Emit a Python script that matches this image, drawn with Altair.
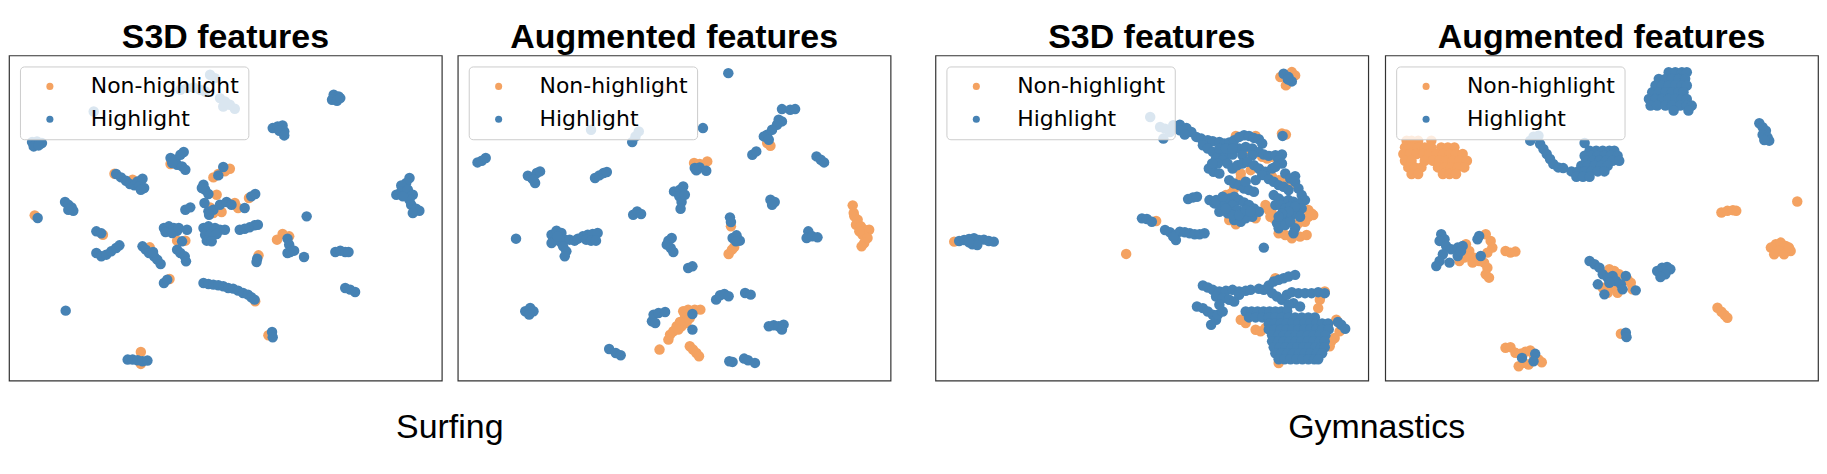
import altair as alt
import pandas as pd

# ---- Panel 1: Surfing, S3D features (t-SNE coords) ----
p1_non = [(325,377),(380,395),(495,348),(625,388),(640,378),(660,370),(675,362),(635,440),(733,450),
          (83,502),(615,478),(625,495),(640,482),(650,492),(690,465),(700,480),(290,560),(515,578),
          (540,578),(762,622),(818,575),(835,558),(855,565),(432,598),(492,693),(752,760),(792,862),
          (405,912),(405,948)]
p1_high = [(615,80),(630,90),(525,125),(545,120),(565,118),(585,125),(600,130),(645,150),(660,160),
           (675,170),(690,182),(655,175),(262,190),
           (75,282),(90,280),(105,285),(80,295),(95,292),
           (990,140),(1005,145),(985,155),(1000,158),(1010,150),
           (805,240),(820,235),(835,232),(840,250),(825,248),(840,262),
           (495,330),(510,335),(525,320),(535,312),(515,350),(530,355),(540,365),(500,345),
           (330,378),(345,388),(360,398),(372,408),(385,412),(395,400),(410,392),(400,415),(415,420),(405,425),
           (655,357),(640,382),
           (595,410),(600,425),(610,438),(590,420),
           (740,445),(752,438),
           (175,462),(185,470),(195,478),(200,488),(185,485),
           (92,510),(540,485),(555,478),(598,465),
           (610,490),(625,485),(645,470),(665,462),(680,470),(720,480),(612,500),
           (908,505),(270,550),(285,556),
           (475,540),(490,535),(505,540),(515,548),(480,552),(500,555),(520,540),(545,545),
           (595,540),(610,535),(630,540),(645,545),(660,545),(600,560),(615,560),(635,558),(605,578),(620,580),
           (705,545),(720,542),(735,538),(750,532),(760,530),
           (850,572),(855,590),(860,608),(850,615),
           (270,615),(285,625),(300,620),(315,610),(330,600),(340,592),
           (410,595),(420,605),(430,615),(445,625),(455,635),(465,648),(442,612),
           (530,580),(515,605),(525,615),(538,625),(542,640),
           (758,632),(756,642),(858,612),(870,608),(900,627),
           (995,612),(1010,608),(1025,612),(1035,612),
           (1220,390),(1210,405),(1195,412),(1180,440),(1195,430),(1215,425),(1230,440),(1220,455),
           (1225,470),(1240,482),(1250,488),(1230,495),(1200,445),
           (475,705),(485,695),
           (595,705),(610,708),(625,710),(640,712),(655,715),(670,720),(685,722),(700,728),(715,735),
           (730,740),(740,748),(750,755),
           (1025,720),(1040,725),(1055,732),
           (177,788),(803,852),(805,868),
           (365,935),(380,935),(395,937),(410,940),(425,938)]

# ---- Panel 2: Surfing, augmented features ----
p2_non = [(640,120),(965,293),(955,285),(733,345),(773,340),(750,348),
          (1215,472),(1218,495),(1220,505),(1230,515),(1225,530),(1240,535),(1250,545),(1265,545),
          (1245,560),(1260,570),(1250,585),(1242,595),(1235,550),
          (845,535),(838,618),(848,605),(855,597),
          (700,790),(715,785),(735,785),(752,785),(705,800),(720,810),(710,825),(695,835),(680,835),
          (670,850),(660,860),(655,875),(628,905),(720,895),(730,905),(740,915),(748,925),(690,822),(685,845)]
p2_high = [(837,75),(420,245),(565,250),(555,265),(545,282),(760,240),
           (1000,183),(1025,185),(1040,183),(990,215),(1000,220),(985,230),(970,245),(955,260),(945,265),(960,275),
           (910,320),(922,310),(1105,325),(1118,335),(1128,343),
           (75,343),(88,338),(100,330),
           (228,383),(240,390),(255,375),(265,370),(250,405),(245,395),
           (432,390),(445,382),(458,375),(468,372),
           (735,360),(750,358),(770,368),(740,367),
           (672,430),(690,425),(700,415),(688,445),(695,462),(692,482),(705,440),
           (965,455),(978,462),(970,470),
           (548,500),(560,490),(572,498),
           (842,508),(845,522),
           (850,570),(862,562),(872,578),(860,580),
           (1080,550),(1075,570),(1092,565),(1108,568),
           (192,572),
           (300,560),(315,548),(330,555),(310,575),(325,580),(340,575),(355,575),(370,578),(380,572),
           (395,565),(410,560),(425,558),(440,555),(405,575),(420,578),(435,578),(335,595),(345,610),
           (340,625),(300,585),(318,565),
           (655,578),(665,570),(650,590),(662,600),(670,612),
           (715,660),(728,655),
           (800,755),(812,742),(825,738),(838,745),
           (888,735),(905,740),
           (220,790),(235,780),(245,790),(232,800),
           (605,820),(610,800),(625,795),(645,792),(615,825),
           (728,798),(728,845),
           (475,903),(495,915),(510,922),
           (960,835),(975,832),(990,835),(1005,830),(1000,845),
           (840,940),(850,942),(885,932),(897,937),(918,945)]

# ---- Panel 3: Gymnastics, S3D features ----
p3_non = [(1065,85),(1082,110),(1100,70),(1110,80),(1070,255),(1082,258),
          (930,262),(990,262),(965,315),(1010,325),(1025,330),(1040,325),
          (945,375),(975,365),(1005,365),(1040,385),(1060,395),(1080,400),(1095,410),(945,390),(925,420),
          (900,440),(915,435),(890,480),(910,515),(930,528),(990,510),
          (1020,470),(1030,485),(1040,495),(1045,510),(1060,555),(1080,560),(1100,570),(1125,565),
          (1145,560),(1150,505),(1165,500),(1140,520),(1120,525),(1035,505),(1150,485),(1160,495),
          (688,518),(597,617),(75,580),
          (1050,690),(1200,730),(1185,755),
          (945,815),(960,825),(990,845),(1005,850),(1020,840),(1210,830),(1235,815),(1245,850),
          (1230,870),(1220,880),(1215,895),(1060,945),(1180,780)]
p3_high = [(1075,75),(1090,85),(1100,98),(1088,92),(1072,262),
           (670,205),(700,235),(715,240),(730,250),(710,270),
           (740,230),(760,228),(780,238),(795,250),(810,265),(825,270),(845,275),(860,278),(880,280),
           (895,285),(910,282),(925,275),(940,265),(955,260),(970,262),(985,268),(1000,272),(1010,285),
           (760,245),(775,258),(730,245),
           (830,290),(845,300),(860,310),(880,315),(900,320),(920,318),(940,300),(960,295),(980,300),
           (1000,310),(1015,318),(1030,322),(1050,320),(1070,318),
           (880,300),(900,300),(920,300),(950,320),(980,320),(870,330),(890,335),(1060,335),(1070,345),
           (848,360),(862,370),(875,345),(880,375),(858,345),
           (905,345),(920,360),(935,350),(950,345),(965,340),(985,350),(1000,360),(1020,370),(1040,360),
           (1050,355),(1010,380),(1030,392),(1045,400),(1060,410),(1075,415),(1090,425),(1110,383),
           (1080,375),(1095,390),(1110,400),(1120,420),(1130,440),(1140,455),
           (910,395),(925,405),(940,410),(955,420),(970,425),(985,430),(960,400),(990,395),
           (850,455),(865,465),(880,470),(895,460),(910,450),(925,445),(940,455),(955,462),(970,470),
           (985,480),(1000,490),(920,470),(935,485),(950,495),(965,500),(980,505),(925,515),(945,520),
           (960,510),(905,495),(920,500),
           (870,455),(890,445),(880,490),(900,480),(940,500),(960,485),(975,490),
           (1045,440),(1060,450),(1075,460),(1090,455),(1105,460),(1120,465),(1130,480),(1115,490),
           (1100,500),(1085,510),(1070,520),(1055,525),(1060,540),(1080,530),(1095,520),(1110,540),
           (1105,555),(1050,470),(1125,505),
           (1065,470),(1080,480),(1095,475),(1110,475),(1090,490),(1070,495),(1060,505),
           (785,452),(800,447),(812,445),
           (645,510),(660,512),(675,520),
           (715,545),(730,552),(745,560),(760,550),(775,552),(790,555),(805,558),(820,558),(835,555),
           (748,575),(740,565),
           (1015,598),
           (90,578),(105,575),(120,572),(135,570),(150,575),(165,574),(180,578),(195,580),(130,588),
           (145,590),(120,582),
           (830,712),(845,718),(860,725),(880,730),(900,728),(920,725),(940,730),(960,728),(975,725),
           (870,745),(890,750),(910,755),(925,760),(940,740),
           (812,775),(830,780),(845,790),(860,800),(870,815),(855,830),(875,800),(890,790),(880,770),
           (1000,722),(1015,725),(1030,712),(1045,700),(1060,695),(1075,690),(1090,685),(1110,680),
           (1040,735),(1055,745),(1070,755),(1085,740),(1100,732),(1120,735),(1140,735),(1160,735),
           (1180,732),(1200,735),(1105,765),(1125,775),(1090,770),
           (960,790),(978,790),(996,790),(1014,790),(1032,790),(1050,790),(1068,790),(1086,790),
           (970,808),(990,808),(1010,808),(1030,808),(1050,808),(1070,808),(1090,808),(1110,808),
           (1130,808),(1150,808),(1170,808),
           (1030,826),(1048,826),(1066,826),(1084,826),(1102,826),(1120,826),(1138,826),(1156,826),
           (1174,826),(1192,826),(1210,826),
           (1030,844),(1048,844),(1066,844),(1084,844),(1102,844),(1120,844),(1138,844),(1156,844),
           (1174,844),(1192,844),(1212,844),
           (1040,862),(1058,862),(1076,862),(1094,862),(1112,862),(1130,862),(1148,862),(1166,862),
           (1184,862),(1202,862),
           (1040,880),(1058,880),(1076,880),(1094,880),(1112,880),(1130,880),(1148,880),(1166,880),
           (1184,880),(1200,880),
           (1045,898),(1063,898),(1081,898),(1099,898),(1117,898),(1135,898),(1153,898),(1171,898),
           (1189,898),(1200,898),
           (1050,916),(1068,916),(1086,916),(1104,916),(1122,916),(1140,916),(1158,916),(1176,916),(1192,916),
           (1060,934),(1078,934),(1096,934),(1114,934),(1132,934),(1150,934),(1168,934),(1180,934),
           (1250,830),(1262,842),(1240,822)]

# ---- Panel 4: Gymnastics, augmented features ----
p4_non = [(85,280),(100,280),(120,280),(160,280),
          (80,300),(100,300),(120,300),(140,300),(160,300),(190,300),(210,300),(230,300),
          (75,320),(95,320),(115,320),(135,320),(155,320),(175,320),(195,320),(215,320),(235,320),(255,320),
          (80,340),(100,340),(140,340),(165,340),(185,340),(205,340),(225,340),(245,340),(268,340),
          (90,360),(110,360),(130,360),(180,360),(200,360),(220,360),(240,360),(260,360),
          (100,380),(120,380),(195,380),(215,380),(235,380),
          (1270,462),(1040,495),(1058,490),(1075,488),(1085,490),
          (1190,600),(1205,590),(1220,585),(1235,595),(1250,610),(1215,610),(1200,620),(1230,620),(1245,600),
          (265,590),(275,610),(290,630),(305,640),(320,645),(330,660),(325,680),(335,690),(325,560),
          (340,580),(345,600),(330,615),(260,630),(245,640),(285,645),(270,625),
          (385,610),(400,615),(415,612),
          (690,675),(700,665),(715,670),(730,680),(755,695),(765,705),(770,725),(710,720),(725,735),
          (680,720),(695,735),
          (1028,780),(1040,792),(1050,802),(1058,810),
          (735,858),
          (385,900),(400,898),(415,915),(430,918),(445,912),(460,908),(470,920),(485,935),(495,943),
          (440,945),(425,955),(455,950)]
p4_high = [(880,75),(900,75),(920,75),(935,75),
           (850,95),(870,95),(890,95),(910,95),(930,95),
           (840,115),(860,115),(880,115),(900,115),(920,115),(935,115),
           (830,135),(850,135),(870,135),(890,135),(910,135),(925,135),
           (820,155),(840,155),(860,155),(880,155),(900,155),(920,155),(935,155),
           (825,175),(845,175),(870,175),(890,175),(915,175),(935,175),(950,175),
           (895,190),(940,190),
           (1155,228),(1165,240),(1175,250),(1165,262),(1180,270),(1185,280),(1170,278),
           (470,268),(485,265),
           (460,280),(490,290),(500,305),(510,320),(520,335),(530,350),(545,360),(560,362),
           (625,287),
           (640,310),(660,310),(680,310),(700,310),(715,310),
           (625,325),(645,325),(665,325),(685,325),(705,325),(725,325),
           (630,340),(650,340),(670,340),(690,340),(710,340),(730,340),
           (615,355),(635,355),(655,355),(675,355),(695,355),
           (585,372),(605,372),(625,372),(645,372),(665,372),(685,372),
           (600,388),(620,388),(640,388),
           (190,560),(200,575),(185,580),(205,595),(220,605),(240,600),(255,595),(195,620),(185,640),
           (175,655),(215,645),(240,625),(250,610),(305,565),(300,575),(310,625),
           (640,640),(655,650),(670,660),(680,680),(695,690),(710,685),(720,700),(735,710),(750,685),
           (665,710),(685,740),(740,725),(780,728),(700,705),
           (845,670),(860,660),(875,658),(885,665),(870,680),(855,688),
           (750,855),(752,868),
           (435,930),(475,918),(470,940)]


def make_df(non, high):
    rows = [{"x": x, "y": y, "cls": "Non-highlight", "z": 0} for x, y in non]
    rows += [{"x": x, "y": y, "cls": "Highlight", "z": 1} for x, y in high]
    return pd.DataFrame(rows)


TITLE_FONT = "Liberation Sans Narrow, Liberation Sans, sans-serif"
W, H = 434, 326


def panel(non, high, title, xdom, ydom):
    df = make_df(non, high)
    return alt.Chart(df).mark_circle(size=110, opacity=1).encode(
        x=alt.X("x:Q", scale=alt.Scale(domain=xdom, nice=False, zero=False), axis=None),
        y=alt.Y("y:Q", scale=alt.Scale(domain=ydom, nice=False, zero=False, reverse=True), axis=None),
        color=alt.Color(
            "cls:N",
            scale=alt.Scale(domain=["Non-highlight", "Highlight"], range=["#f4a261", "#4682b4"]),
            legend=alt.Legend(
                title=None, orient="none", legendX=11, legendY=11,
                fillColor="rgba(255,255,255,0.8)", strokeColor="#cccccc", cornerRadius=4,
                padding=9, labelFont="DejaVu Sans", labelFontSize=22, labelColor="black",
                symbolType="circle", symbolSize=50, symbolOpacity=1, symbolStrokeWidth=0,
                symbolOffset=10, labelOffset=30, rowPadding=11,
            ),
        ),
        order=alt.Order("z:Q"),
    ).properties(
        width=W, height=H,
        title=alt.Title(title, fontSize=34, font=TITLE_FONT, fontWeight="bold", color="black",
                        anchor="middle", offset=0),
    )


c1 = panel(p1_non, p1_high, "S3D features", [5, 1318], [22, 998])
c2 = panel(p2_non, p2_high, "Augmented features", [15, 1330], [22, 998])
c3 = panel(p3_non, p3_high, "S3D features", [18, 1332], [20, 998])
c4 = panel(p4_non, p4_high, "Augmented features", [20, 1333], [25, 998])

left = alt.hconcat(c1, c2, spacing=14,
                   title=alt.Title("Surfing", orient="bottom", fontSize=34, font=TITLE_FONT,
                                   fontWeight="normal", color="black", anchor="middle", offset=30)
                   ).resolve_legend(color="independent")
right = alt.hconcat(c3, c4, spacing=15,
                    title=alt.Title("Gymnastics", orient="bottom", fontSize=34, font=TITLE_FONT,
                                    fontWeight="normal", color="black", anchor="middle", offset=30)
                    ).resolve_legend(color="independent")

chart = alt.hconcat(left, right, spacing=43).resolve_legend(color="independent").properties(
    padding={"left": 0, "top": 12, "right": 0, "bottom": 0},
    background="white",
).configure_view(stroke="#333333", strokeWidth=1.2)

chart.save("out.html", embed_options={"renderer": "svg", "actions": False})
